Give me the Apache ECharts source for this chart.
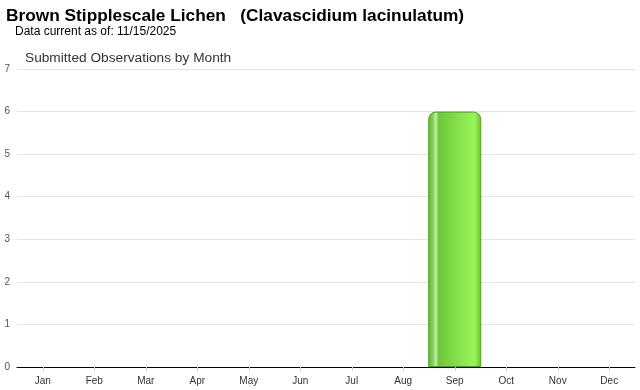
<!DOCTYPE html>
<html><head><meta charset="utf-8">
<script src="https://cdn.jsdelivr.net/npm/echarts@6/dist/echarts.min.js"></script>
<style>html,body{margin:0;padding:0;background:#fff}#c{width:640px;height:390px}</style>
</head><body><div id="c"></div>
<script>
const months = ["Jan","Feb","Mar","Apr","May","Jun","Jul","Aug","Sep","Oct","Nov","Dec"];
const observations = [0,0,0,0,0,0,0,0,6,0,0,0];
const yTicks = {min:0, max:7, interval:1};
const titleText = "Brown Stipplescale Lichen   (Clavascidium lacinulatum)";
const subText = "Data current as of: 11/15/2025";
const chartTitle = "Submitted Observations by Month";

const barData = observations.map(v => v > 0 ? {value:v} : {value:v, itemStyle:{borderWidth:0, opacity:0}});

const chart = echarts.init(document.getElementById('c'), null, {renderer:'canvas'});
chart.setOption({
  animation:false,
  title:[
    {text:titleText, left:6, top:8, padding:0, textStyle:{fontFamily:'Liberation Sans, Arial', fontWeight:'bold', fontSize:17.3, color:'#000'}},
    {text:subText, left:15, top:26, padding:0, textStyle:{fontFamily:'Liberation Sans, Arial', fontWeight:'normal', fontSize:12, color:'#000'}},
    {text:chartTitle, left:25, top:51, padding:0, textStyle:{fontFamily:'Liberation Sans, Arial', fontWeight:'normal', fontSize:13.7, color:'#333'}}
  ],
  grid:{left:17, right:5, top:69, bottom:23, containLabel:false},
  xAxis:{type:'category', data:months, z:10,
    axisLine:{lineStyle:{color:'#000', width:1}},
    axisTick:{show:true, alignWithLabel:true, length:4, lineStyle:{color:'#ccc'}},
    axisLabel:{color:'#333', fontSize:10, fontFamily:'Liberation Sans, Arial', margin:9}},
  yAxis:{type:'value', min:yTicks.min, max:yTicks.max, interval:yTicks.interval,
    axisLine:{show:false}, axisTick:{show:false},
    splitLine:{lineStyle:{color:'#e4e4e4'}},
    axisLabel:{color:'#555', fontSize:10, fontFamily:'Liberation Sans, Arial', margin:7}},
  series:[{type:'bar', data:barData, barWidth:53,
    itemStyle:{
      borderRadius:[7,7,0,0],
      borderColor:'#4ea218', borderWidth:1,
      color:new echarts.graphic.LinearGradient(0,0,1,0,[
        {offset:0, color:'#5fb62a'},
        {offset:0.1, color:'#8fd466'},
        {offset:0.14, color:'#c4eeaa'},
        {offset:0.2, color:'#6cc63a'},
        {offset:0.55, color:'#86e04a'},
        {offset:0.88, color:'#9af55c'},
        {offset:1, color:'#66bd2c'}
      ])
    }}]
});
</script></body></html>
